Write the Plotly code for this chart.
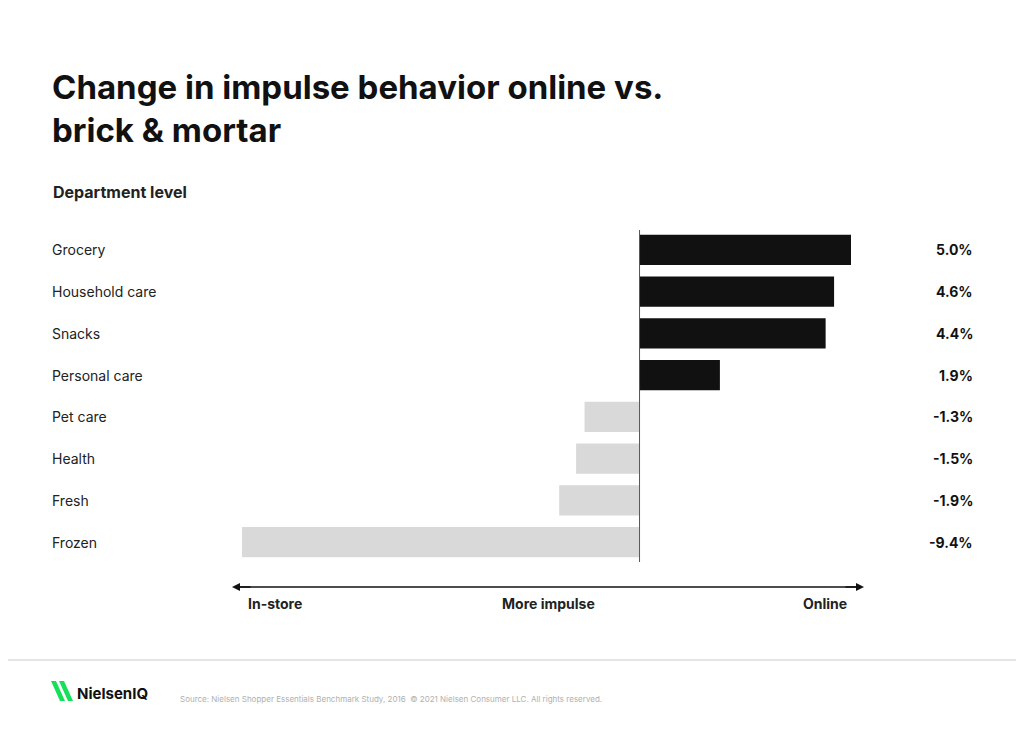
import plotly.graph_objects as go

departments = ["Grocery", "Household care", "Snacks", "Personal care",
               "Pet care", "Health", "Fresh", "Frozen"]
change_pct = [5.0, 4.6, 4.4, 1.9, -1.3, -1.5, -1.9, -9.4]
value_labels = ["5.0%", "4.6%", "4.4%", "1.9%", "-1.3%", "-1.5%", "-1.9%", "-9.4%"]

W, H = 1024, 736
FONT = "Inter"
OFF = 8  # page body margin


def px(x):
    return (x - OFF) / W


def py(y):
    return 1 - (y - OFF) / H


colors = ["#111111" if v > 0 else "#d9d9d9" for v in change_pct]

fig = go.Figure(go.Bar(
    x=change_pct, y=departments, orientation="h",
    marker=dict(color=colors, line=dict(width=0)),
    hoverinfo="x+y",
))

annotations = []
for dept, lab in zip(departments, value_labels):
    annotations.append(dict(x=px(975), xref="paper", y=dept, yref="y", text=lab,
                            showarrow=False, xanchor="right",
                            font=dict(family=FONT, size=14, color="#111111", weight="bold")))
    annotations.append(dict(x=px(50), xref="paper", y=dept, yref="y", text=dept,
                            showarrow=False, xanchor="left",
                            font=dict(family=FONT, size=14, color="#222222")))

annotations += [
    dict(x=px(50), y=py(108), xref="paper", yref="paper", xanchor="left", yanchor="middle",
         text="Change in impulse behavior online vs.<br>brick & mortar", showarrow=False, align="left",
         font=dict(family=FONT, size=33, color="#111111", weight="bold")),
    dict(x=px(51), y=py(192), xref="paper", yref="paper", xanchor="left", yanchor="middle",
         text="Department level", showarrow=False,
         font=dict(family=FONT, size=16, color="#222222", weight="bold")),
    dict(x=px(246), y=py(614), xref="paper", yref="paper", xanchor="left", text="In-store",
         showarrow=False, font=dict(family=FONT, size=14, color="#222222", weight="bold")),
    dict(x=px(548), y=py(614), xref="paper", yref="paper", xanchor="center", text="More impulse",
         showarrow=False, font=dict(family=FONT, size=14, color="#222222", weight="bold")),
    dict(x=px(849), y=py(614), xref="paper", yref="paper", xanchor="right", text="Online",
         showarrow=False, font=dict(family=FONT, size=14, color="#222222", weight="bold")),
    # arrowheads
    dict(x=px(232), y=py(587), ax=20, ay=0, xref="paper", yref="paper",
         text="", showarrow=True, arrowhead=2,
         arrowsize=1, arrowwidth=1.6, arrowcolor="#111111"),
    dict(x=px(864), y=py(587), ax=-20, ay=0, xref="paper", yref="paper",
         text="", showarrow=True, arrowhead=2,
         arrowsize=1, arrowwidth=1.6, arrowcolor="#111111"),
    dict(x=px(75), y=py(705), xref="paper", yref="paper", xanchor="left", text="NielsenIQ",
         showarrow=False, font=dict(family=FONT, size=15, color="#111111", weight="bold")),
    dict(x=px(178), y=py(706), xref="paper", yref="paper", xanchor="left",
         text="Source: Nielsen Shopper Essentials Benchmark Study, 2016  © 2021 Nielsen Consumer LLC. All rights reserved.",
         showarrow=False, font=dict(family=FONT, size=8, color="#b0b0b0")),
]

shapes = [
    dict(type="line", x0=0, x1=0, xref="x", y0=py(230), y1=py(562), yref="paper",
         line=dict(color="#555555", width=1)),
    dict(type="line", x0=px(240), x1=px(856), xref="paper", y0=py(587), y1=py(587), yref="paper",
         line=dict(color="#111111", width=1.6)),
    dict(type="line", x0=0, x1=1, xref="paper", y0=py(660), y1=py(660), yref="paper",
         line=dict(color="#dddddd", width=1.5)),
]
# logo: two green slanted strokes (top-left to bottom-right)
for dx in (0, 8):
    x0 = 51 + dx
    shapes.append(dict(type="path", xref="paper", yref="paper",
                       path=f"M {px(x0)},{py(681)} L {px(x0+5)},{py(681)} L {px(x0+14)},{py(701)} "
                            f"L {px(x0+9)},{py(701)} Z",
                       fillcolor="#16e05a", line=dict(width=0)))

fig.update_layout(
    width=W, height=H, margin=dict(l=0, r=0, t=0, b=0),
    paper_bgcolor="white", plot_bgcolor="white",
    showlegend=False, bargap=0.28,
    xaxis=dict(range=[-9.4, 5.0], domain=[px(242), px(851)], visible=False, fixedrange=True),
    yaxis=dict(autorange="reversed", domain=[py(563), py(229)], visible=False, fixedrange=True),
    annotations=annotations, shapes=shapes,
)

fig.write_html("out.html")
